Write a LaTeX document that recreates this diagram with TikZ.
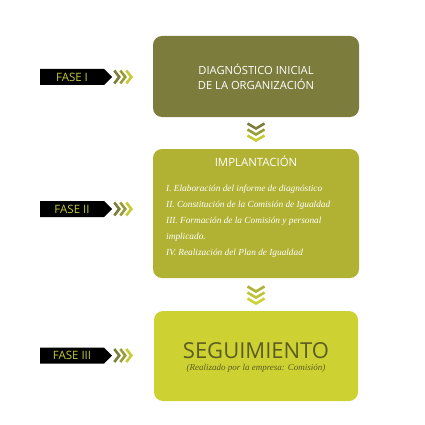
\documentclass[tikz,border=0pt]{standalone}
\usepackage{fontspec}
\setmainfont{Liberation Serif}
\setsansfont{Open Sans}
\usetikzlibrary{positioning, calc, shapes.symbols}

\definecolor{phaseA}{HTML}{7C7C3C}
\definecolor{phaseAB}{HTML}{9A9C36}
\definecolor{phaseB}{HTML}{B1B133}
\definecolor{phaseBC}{HTML}{C0C434}
\definecolor{phaseC}{HTML}{CDD232}
\definecolor{tagText}{HTML}{C6CB35}
\definecolor{darkText}{HTML}{5C5C22}

\begin{document}
\begin{tikzpicture}[
            x = 1pt, y = -1pt, % pixel grid, y downwards
            phase/.style = {rounded corners = 9pt, inner sep = 0pt, minimum width = 206pt},
            tag/.style = {signal, signal to = east, fill = black, inner sep = 0pt,
                minimum width = 72pt, minimum height = 16pt,
                font = \sffamily\fontsize{11.5}{12}\selectfont, text = tagText},
            chev/.style = {line width = 2.6pt, line join = miter}
        ]
        \useasboundingbox (0,0) rectangle (425,425);

        % the three phase boxes
        \node[phase, fill = phaseA, minimum height = 81pt] (diag) at (256,76.5) {};
        \node[phase, fill = phaseB, minimum height = 129pt] (impl) at (256,213.5) {};
        \node[phase, fill = phaseC, minimum height = 90pt, minimum width = 204pt] (segu) at (256,356) {};

        % texts
        \node[align = center, text = white, font = \sffamily\fontsize{11.2}{15}\selectfont]
            (diagtxt) at (diag.center) {DIAGNÓSTICO INICIAL\\DE LA ORGANIZACIÓN};
        \node[text = white, font = \sffamily\fontsize{11.4}{12}\selectfont]
            (impltitle) at (256,161) {IMPLANTACIÓN};
        \node[anchor = north west, align = left, inner sep = 0pt, text = white,
            font = \itshape\fontsize{9.3}{16}\selectfont] (impllist) at (166,185)
            {I. Elaboración del informe de diagnóstico\\
             II. Constitución de la Comisión de Igualdad\\
             III. Formación de la Comisión y personal\\
             implicado.\\
             IV. Realización del Plan de Igualdad};
        \node[anchor = base, inner sep = 0pt, text = darkText, font = \sffamily\fontsize{22}{24}\selectfont]
            (segutitle) at (256,358) {SEGUIMIENTO};
        \node[anchor = base, inner sep = 0pt, text = darkText, font = \itshape\fontsize{9}{10}\selectfont]
            (segusub) at (256,370.5) {(Realizado por la empresa: Comisión)};

        % phase tags
        \node[tag] (f1) at (72,77) {FASE I};
        \node[tag] (f2) at (72,209) {FASE II};
        \node[tag] (f3) at (72,355.5) {FASE III};

        % side chevrons
        \foreach \f in {f1, f2, f3}
            \foreach \c [count = \i from 0] in {phaseA, phaseAB, tagText}
                \draw[chev, \c] ($(\f.east)+(\i*6+2,-6.5)$) -- ++(5,6.5) -- ++(-5,6.5);

        % chevrons between boxes
        \foreach \c [count = \i from 0] in {phaseA, phaseAB, tagText}
            \draw[chev, \c] (247.5,123.5+\i*6) -- (256,128.5+\i*6) -- (264.5,123.5+\i*6);
        \foreach \c [count = \i from 0] in {phaseB, phaseBC, phaseC}
            \draw[chev, \c] (247.5,286.5+\i*6) -- (256,291.5+\i*6) -- (264.5,286.5+\i*6);

  \end{tikzpicture}
\end{document}
